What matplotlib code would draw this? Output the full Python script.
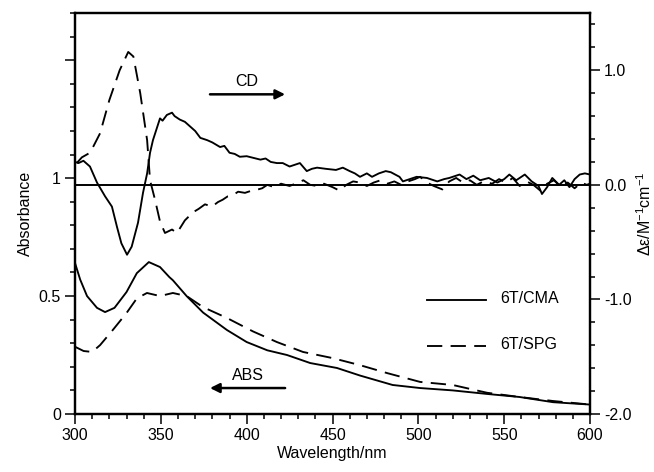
import numpy as np
import matplotlib
matplotlib.use("Agg")
import matplotlib.pyplot as plt

plt.rcParams['font.family'] = ['Liberation Sans', 'DejaVu Sans']
plt.rcParams['mathtext.default'] = 'regular'
plt.rcParams['axes.unicode_minus'] = False
plt.rcParams['lines.scale_dashes'] = False

# absorbance, 6T/CMA (solid)
wl_abs_cma = [300, 303, 307, 312.8, 317.5, 323, 330, 336, 343, 349.5, 355, 357, 365, 374.6,
              388.5, 400, 412, 423.5, 437, 452.6, 466, 485, 501, 520, 540, 559, 578.5, 600]
abs_cma = [0.64, 0.57, 0.50, 0.45, 0.432, 0.45, 0.517, 0.597, 0.644, 0.623, 0.58, 0.567, 0.50, 0.43,
           0.356, 0.305, 0.27, 0.25, 0.216, 0.195, 0.163, 0.123, 0.11, 0.10, 0.085, 0.072, 0.05, 0.040]

# absorbance, 6T/SPG (dashed)
wl_abs_spg = [300, 305, 310, 314.6, 322, 330, 336, 341.9, 349.5, 357, 365, 374.6, 388.5, 403.7,
              417.6, 432.8, 450, 466, 482, 501, 520, 540, 559, 578.5, 600]
abs_spg = [0.285, 0.267, 0.263, 0.292, 0.356, 0.428, 0.49, 0.513, 0.50, 0.513, 0.50, 0.453, 0.407, 0.35,
           0.305, 0.263, 0.237, 0.207, 0.173, 0.136, 0.123, 0.09, 0.072, 0.055, 0.040]

# CD, 6T/CMA (solid)
wl_cd_cma = [300, 302, 304.9, 308.7, 312.8, 317.5, 321.5, 324.5, 327, 330.3, 333, 336.7, 339.6, 342,
             343.7, 345.4, 349.5, 351, 353.5, 356.5, 358, 361, 364, 367, 370, 373, 377, 380, 384.5,
             387, 390, 393, 396, 400, 404, 408, 411, 414, 417.6, 421, 425, 427, 431, 435, 438, 441,
             446, 452, 456, 460, 463, 466, 470, 473, 477, 481, 484, 489, 491, 495, 499, 505, 511,
             515, 518, 524, 528, 532, 536, 541, 546, 550, 553, 557, 562, 566, 570, 572, 575, 578,
             582, 585, 588, 591, 594, 597, 600]
cd_cma = [0.20, 0.19, 0.21, 0.16, 0.02, -0.10, -0.19, -0.37, -0.51, -0.61, -0.54, -0.33, -0.07, 0.10,
          0.28, 0.39, 0.58, 0.56, 0.61, 0.63, 0.60, 0.57, 0.55, 0.51, 0.47, 0.41, 0.39, 0.37, 0.33,
          0.34, 0.28, 0.27, 0.245, 0.25, 0.235, 0.22, 0.23, 0.20, 0.19, 0.19, 0.16, 0.17, 0.19, 0.12, 0.14, 0.15,
          0.14, 0.13, 0.15, 0.12, 0.10, 0.07, 0.10, 0.07, 0.10, 0.12, 0.11, 0.07, 0.03, 0.05, 0.07,
          0.06, 0.03, 0.05, 0.06, 0.09, 0.05, 0.08, 0.04, 0.06, 0.02, 0.05, 0.09, 0.04, 0.09, 0.03,
          -0.01, -0.08, -0.02, 0.06, 0.0, 0.04, -0.02, 0.05, 0.09, 0.10, 0.09]

# CD, 6T/SPG (dashed)
wl_cd_spg = [301, 304, 308.7, 310.5, 314.6, 320, 326, 331, 334, 338, 342, 343.7, 346.6, 349.5,
             352.4, 356.5, 359.4, 364, 368.7, 372, 375.7, 379.8, 383.3, 386, 389, 392, 395, 399,
             403, 406.6, 409, 412, 416, 420, 425, 430, 433, 437, 441, 445, 450, 454, 458, 462, 466,
             470, 474, 478, 482, 486, 490, 494, 498, 501, 505, 509, 514, 518, 522, 526, 530, 534,
             538, 543, 547, 551, 555, 559, 563, 567, 571, 575, 579, 583, 587, 591, 595, 598, 600]
cd_spg = [0.19, 0.24, 0.28, 0.33, 0.45, 0.74, 1.00, 1.16, 1.12, 0.80, 0.39, 0.04, -0.13, -0.32,
          -0.42, -0.39, -0.42, -0.31, -0.24, -0.21, -0.17, -0.19, -0.15, -0.13, -0.10, -0.09, -0.06, -0.07,
          -0.05, -0.04, -0.03, 0.0, -0.02, 0.01, -0.01, 0.02, 0.04, 0.0, -0.01, 0.01, -0.02, -0.05, 0.0, 0.03, 0.02,
          -0.01, 0.02, 0.04, 0.01, 0.03, 0.0, 0.03, 0.05, 0.07, 0.02, -0.01, -0.04, 0.03, 0.06, 0.02, 0.04, 0.0,
          0.03, 0.01, 0.05, 0.02, 0.06, -0.01, 0.03, 0.0, -0.05, 0.01, 0.04, -0.02, 0.02, -0.03, 0.02, 0.0, 0.01]

DASH = (11, 6)
LW = 1.35
FS = 11.5

fig = plt.figure(figsize=(6.54, 4.72), dpi=100)
ax = fig.add_axes([0.1147, 0.1229, 0.7875, 0.8496])
ax2 = ax.twinx()

ax.plot(wl_abs_cma, abs_cma, color='black', lw=LW)
ax.plot(wl_abs_spg, abs_spg, color='black', lw=LW, dashes=DASH)
ax2.plot(wl_cd_cma, cd_cma, color='black', lw=LW)
ax2.plot(wl_cd_spg, cd_spg, color='black', lw=LW, dashes=DASH)
ax2.axhline(0, color='black', lw=1.4)

ax.set_xlim(300, 600)
ax.set_ylim(0, 1.7)
ax2.set_ylim(-2.0, 1.5)

ax.set_xticks(np.arange(300, 601, 50))
ax.set_xticks(np.arange(300, 601, 10), minor=True)
ax.set_yticks([0, 0.5, 1.0, 1.5])
ax.set_yticklabels(['0', '0.5', '1', ''])
ax.set_yticks(np.arange(0, 1.71, 0.1), minor=True)
ax2.set_yticks([-2.0, -1.0, 0.0, 1.0])
ax2.set_yticklabels(['-2.0', '-1.0', '0.0', '1.0'])
ax2.set_yticks(np.arange(-2.0, 1.51, 0.2), minor=True)

for a in (ax, ax2):
    a.tick_params(which='major', length=7, width=1.1, direction='out', labelsize=FS, pad=3)
    a.tick_params(which='minor', length=3.5, width=1.1, direction='out')
    for s in a.spines.values():
        s.set_linewidth(1.6)
ax.tick_params(top=False, right=False)

ax.set_xlabel('Wavelength/nm', fontsize=FS, labelpad=2)
ax.set_ylabel('Absorbance', fontsize=FS, labelpad=4)
ax2.set_ylabel('Δε/M$^{-1}$cm$^{-1}$', fontsize=FS, labelpad=3)

# arrows with labels
ax2.annotate('', xy=(424, 0.79), xytext=(377, 0.79),
             arrowprops=dict(arrowstyle='-|>', color='black', lw=1.8, mutation_scale=14))
ax2.text(400, 0.9, 'CD', fontsize=FS, ha='center', va='center')
ax.annotate('', xy=(377, 0.11), xytext=(424, 0.11),
            arrowprops=dict(arrowstyle='-|>', color='black', lw=1.8, mutation_scale=14))
ax.text(401, 0.165, 'ABS', fontsize=FS, ha='center', va='center')

# legend drawn by hand
ax.plot([0.683, 0.798], [0.284, 0.284], transform=ax.transAxes, color='black', lw=LW)
ax.plot([0.683, 0.798], [0.170, 0.170], transform=ax.transAxes, color='black', lw=LW, dashes=DASH)
ax.text(0.825, 0.287, '6T/CMA', transform=ax.transAxes, fontsize=FS, va='center')
ax.text(0.825, 0.173, '6T/SPG', transform=ax.transAxes, fontsize=FS, va='center')

fig.savefig('out.png', dpi=100)
